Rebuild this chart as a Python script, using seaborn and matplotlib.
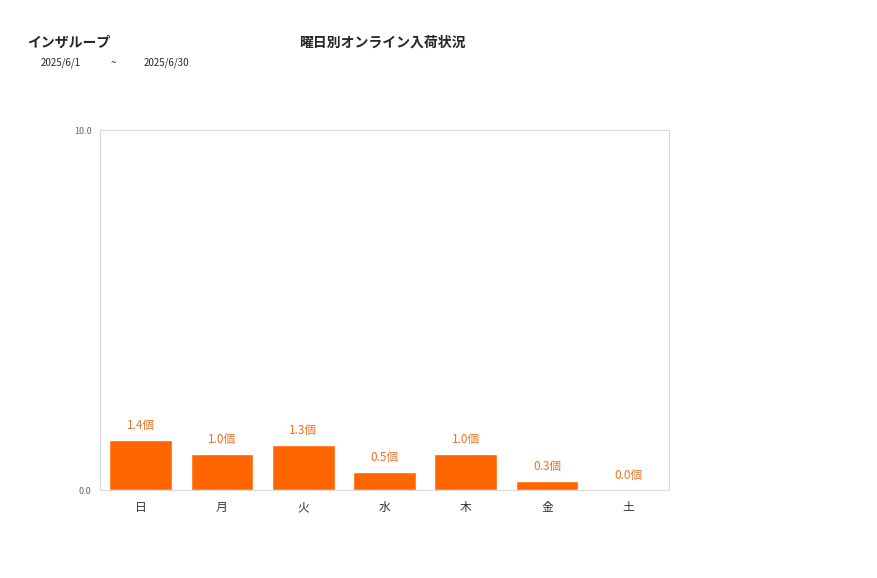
import matplotlib
matplotlib.use("Agg")
import matplotlib.pyplot as plt
import seaborn as sns
import pandas as pd

# data
days = ["日", "月", "火", "水", "木", "金", "土"]
values = [1.4, 1.0, 1.25, 0.5, 1.0, 0.25, 0.0]
value_labels = ["1.4個", "1.0個", "1.3個", "0.5個", "1.0個", "0.3個", "0.0個"]
y_ticks = [0.0, 10.0]

sns.set_style("white")
plt.rcParams['font.family'] = ['Noto Sans CJK JP', 'DejaVu Sans']

df = pd.DataFrame({"day": days, "value": values})

fig = plt.figure(figsize=(8.77, 5.78), dpi=100)
ax = fig.add_axes([100 / 877, 88 / 578, 569 / 877, 360 / 578])

sns.barplot(data=df, x="day", y="value", color="#ff6600", width=0.77,
            saturation=1, ax=ax)

for i, (v, lab) in enumerate(zip(values, value_labels)):
    ax.text(i, v + 0.22, lab, ha="center", va="bottom", fontsize=8.5, color="#e8732a")

ax.set_ylim(0, 10)
ax.set_yticks(y_ticks)
ax.set_yticklabels([f"{t:.1f}" for t in y_ticks], fontsize=6.5, color="#666666")
ax.tick_params(axis="x", labelsize=8.5, colors="#333333", length=0, pad=8)
ax.tick_params(axis="y", length=0, pad=6)
ax.set_xlabel("")
ax.set_ylabel("")
for s in ax.spines.values():
    s.set_color("#d9d9d9")
    s.set_linewidth(0.8)

fig.text(27 / 877, 1 - 43 / 578, "インザループ", fontsize=10, fontweight="bold",
         ha="left", va="center")
fig.text(382 / 877, 1 - 43 / 578, "曜日別オンライン入荷状況", fontsize=10,
         fontweight="bold", ha="center", va="center")
fig.text(41 / 877, 1 - 63 / 578, "2025/6/1", fontsize=7, ha="left", va="center")
fig.text(111 / 877, 1 - 63 / 578, "~", fontsize=7, ha="left", va="center")
fig.text(144 / 877, 1 - 63 / 578, "2025/6/30", fontsize=7, ha="left", va="center")

fig.savefig("out.png", dpi=100)
